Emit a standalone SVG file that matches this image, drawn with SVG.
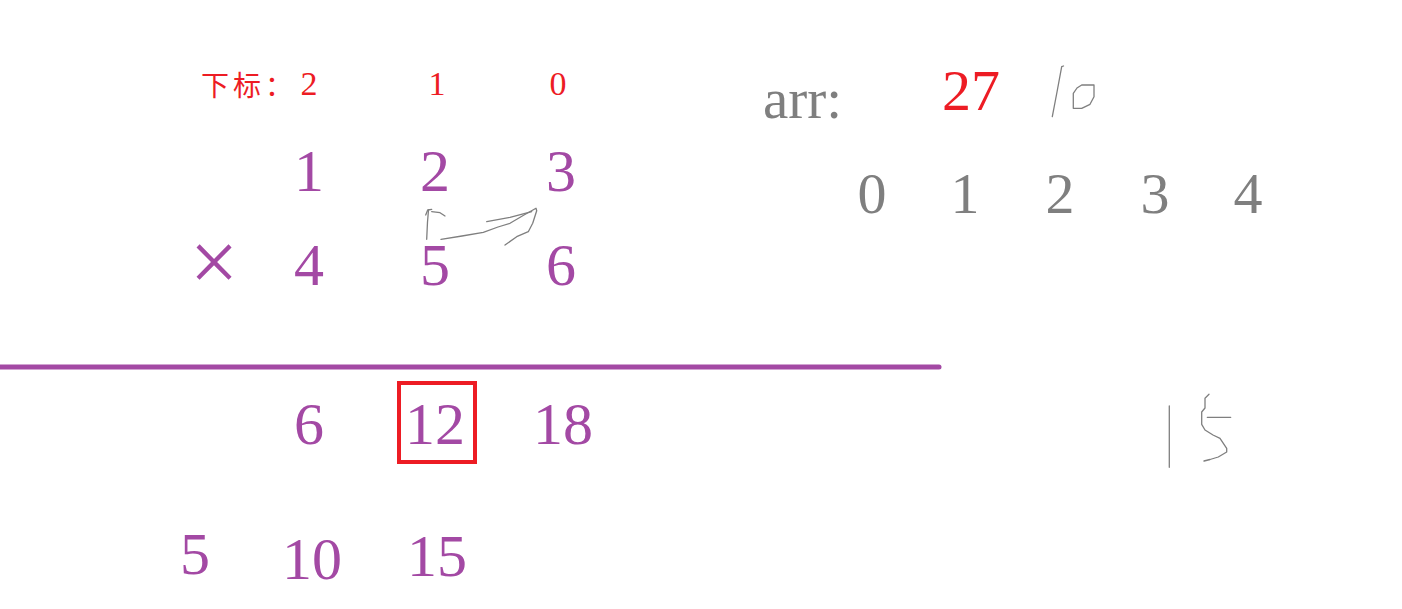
<svg xmlns="http://www.w3.org/2000/svg" width="1402" height="609" viewBox="0 0 1402 609">
<style>
.p{font-family:"Liberation Serif","DejaVu Serif",serif;font-size:60px;fill:#A349A4;text-anchor:middle}
.r{font-family:"Liberation Serif",serif;font-size:34px;fill:#ED1C24;text-anchor:middle}
.g{font-family:"Liberation Serif",serif;font-size:58px;fill:#7F7F7F;text-anchor:middle}
.ink{fill:none;stroke:#7F7F7F;stroke-width:1.3;stroke-linecap:round;stroke-linejoin:round}
</style>
<rect width="1402" height="609" fill="#FFFFFF"/>
<g id="index-labels">
<text x="201" y="96" style="font-family:'Noto Sans CJK SC',sans-serif;font-size:28px;letter-spacing:4px;fill:#ED1C24">下标：</text>
<text class="r" x="309" y="95">2</text>
<text class="r" x="437" y="95">1</text>
<text class="r" x="558" y="95">0</text>
</g>
<g id="multiplicand">
<text class="p" x="309" y="191">1</text>
<text class="p" x="435" y="191">2</text>
<text class="p" x="561" y="191">3</text>
</g>
<g id="multiplier">
<text class="p" x="214" y="291" style="font-size:86px">×</text>
<text class="p" x="309" y="285">4</text>
<text class="p" x="435" y="285">5</text>
<text class="p" x="561" y="285">6</text>
</g>
<g id="rule">
<line x1="0" y1="367" x2="939" y2="367" stroke="#A349A4" stroke-width="5" stroke-linecap="round"/>
</g>
<g id="partial-products">
<text class="p" x="309" y="444">6</text>
<text class="p" x="435" y="444">12</text>
<text class="p" x="563" y="444">18</text>
<rect x="399" y="383" width="76" height="79" fill="none" stroke="#ED1C24" stroke-width="4"/>
</g>
<g id="second-row">
<text class="p" x="195" y="574">5</text>
<text class="p" x="312" y="579">10</text>
<text class="p" x="437" y="576">15</text>
</g>
<g id="arr">
<text x="763" y="118" style="font-family:'Liberation Serif',serif;font-size:57px;fill:#7F7F7F">arr:</text>
<text x="971" y="110" style="font-family:'Liberation Serif',serif;font-size:58px;fill:#ED1C24;text-anchor:middle">27</text>
</g>
<g id="arr-indices">
<text class="g" x="872" y="213">0</text>
<text class="g" x="965" y="213">1</text>
<text class="g" x="1060" y="213">2</text>
<text class="g" x="1155" y="213">3</text>
<text class="g" x="1248" y="213">4</text>
</g>
<g id="connectors">
<polyline class="ink" points="425.7,215 427.7,210 431.7,209.3"/>
<polyline class="ink" points="428.5,210 427.5,222 426.7,239.3"/>
<polyline class="ink" points="431.7,211.7 440,212.7 445,216"/>
<polyline class="ink" points="441,239.3 462,236 483.3,232.3 498,227 510,223.3 524,215 536,208.3 536.7,210.7 532.7,223.3 528.3,231.7 516.7,236.7 505,245"/>
<polyline class="ink" points="486.7,221.7 510,217.3 531.7,211.7"/>
</g>
<g id="ink-notes">
<polyline class="ink" points="1052.3,116.7 1057,92 1061.7,66.7 1063.5,66"/>
<polyline class="ink" points="1077,88 1081.7,85 1094,85 1094,96.7 1090,104.3 1081.7,108.3 1073.3,108.3 1073.3,93.3 1077,88"/>
<polyline class="ink" points="1169.3,406 1169.3,467.3"/>
<polyline class="ink" points="1209,394.3 1205,398.3 1205,408 1201.7,412 1201.7,424.3 1205,430 1213,435 1220,438.3 1226.7,448.3 1226.7,452 1218.3,457 1210,459.5 1204,461"/>
<polyline class="ink" points="1207.3,417.3 1230.7,417.3"/>
</g>
</svg>
